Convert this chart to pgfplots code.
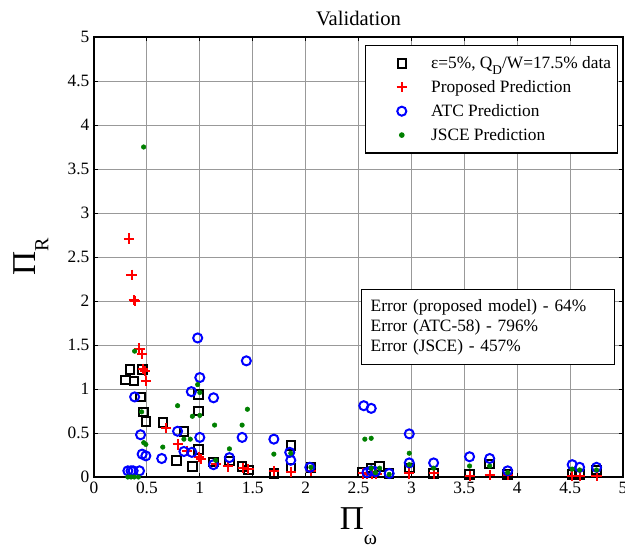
\documentclass[border=0pt]{standalone}
\usepackage{fontspec}
\setmainfont{Liberation Serif}
\usepackage{pgfplots}
\pgfplotsset{compat=1.18}
\definecolor{mgreen}{RGB}{0,128,0}
\pgfplotsset{mylegimg/.style={legend image code/.code={\path[draw=none] (0pt,0pt) -- (44pt,0pt); \draw[##1, only marks] plot coordinates {(24pt,0pt)};}}}
\begin{document}
\begin{tikzpicture}
\begin{axis}[
 name=ax, at={(0,0)}, anchor=south west,
 scale only axis, width=396.75pt, height=330pt,
 xmin=0, xmax=5, ymin=0, ymax=5,
 xtick={0,0.5,...,5}, ytick={0,0.5,...,5},
 grid=major, grid style={color=black!40, line width=0.7pt},
 tick align=inside, major tick length=3pt,
 tick style={black, line width=0.6pt},
 axis line style={black, line width=0.8pt},
 /pgf/number format/assume math mode=true,
 ticklabel style={font=\fontsize{13}{15}\selectfont},
 title={Validation},
 title style={font=\fontsize{15.5}{18}\selectfont, anchor=base, at={(0.5,1)}, yshift=3pt},
 xlabel={\fontsize{25}{28}\selectfont Π\raisebox{-0.45em}{\fontsize{15}{15}\selectfont ω}},
 xlabel style={at={(axis description cs:0.5,0)}, anchor=base, yshift=-39.75pt},
 ylabel={\fontsize{25}{28}\selectfont Π\raisebox{-0.4em}{\fontsize{15}{15}\selectfont R}},
 ylabel style={at={(axis description cs:-0.1115,0.5)}, anchor=base},
 legend style={at={(0.991,0.982)}, anchor=north east, draw=black, line width=0.8pt,
   inner xsep=3pt, inner ysep=4.5pt, font=\fontsize{13}{15}\selectfont,
   nodes={inner ysep=3.7pt}},
 legend cell align=left,
]
% experimental data
\addplot[only marks, mark=square, mark size=3.2pt, line width=1.5pt, black, mylegimg] coordinates {
(0.30,1.10) (0.34,1.22) (0.38,1.09) (0.46,1.22) (0.44,0.91) (0.47,0.74) (0.49,0.63)
(0.65,0.62) (0.85,0.52) (0.99,0.94) (0.99,0.75) (0.99,0.31) (0.78,0.19) (0.93,0.12)
(1.13,0.17) (1.28,0.18) (1.40,0.12) (1.46,0.08) (1.70,0.04) (1.86,0.36) (1.86,0.10)
(2.05,0.11) (2.54,0.05) (2.62,0.10) (2.70,0.12) (2.79,0.04) (2.98,0.10) (3.21,0.04)
(3.55,0.03) (3.74,0.15) (3.91,0.03) (4.52,0.03) (4.59,0.03) (4.75,0.08)
};
\addlegendentry{ε=5\%, Q\raisebox{-0.35em}{\fontsize{10}{10}\selectfont D}/W=17.5\% data}
% proposed
\addplot[only marks, mark=+, mark size=3.8pt, line width=1.5pt, red, mylegimg] coordinates {
(0.33,2.71) (0.355,2.30) (0.375,2.01) (0.39,2.00) (0.43,1.46) (0.45,1.40) (0.46,1.23)
(0.48,1.20) (0.49,1.09) (0.68,0.56) (0.79,0.37) (0.88,0.30) (0.99,0.23) (1.01,0.20)
(1.15,0.15) (1.27,0.12) (1.41,0.10) (1.46,0.09) (1.70,0.07) (1.86,0.06) (2.05,0.07)
(2.54,0.04) (2.58,0.03) (2.63,0.03) (2.67,0.03) (2.98,0.04) (3.21,0.04) (3.55,0.01)
(3.74,0.02) (3.91,0.02) (4.52,0.01) (4.59,0.01) (4.75,0.01)
};
\addlegendentry{Proposed Prediction}
% ATC
\addplot[only marks, mark=o, mark size=3.4pt, line width=1.5pt, blue, mylegimg] coordinates {
(0.32,0.07) (0.35,0.07) (0.37,0.07) (0.43,0.07) (0.384,0.91) (0.44,0.48) (0.455,0.26)
(0.49,0.24) (0.64,0.21) (0.79,0.52) (0.85,0.29) (0.925,0.28) (0.92,0.97) (0.98,1.58)
(1.00,1.13) (1.00,0.45) (1.13,0.90) (1.13,0.14) (1.28,0.22) (1.40,0.45) (1.44,1.32)
(1.70,0.43) (1.85,0.28) (1.86,0.19) (2.04,0.11) (2.55,0.81) (2.62,0.78) (2.58,0.05)
(2.62,0.07) (2.66,0.06) (2.79,0.04) (2.98,0.49) (2.98,0.16) (3.21,0.16) (3.55,0.23)
(3.74,0.21) (3.91,0.07) (4.52,0.14) (4.59,0.11) (4.75,0.11)
};
\addlegendentry{ATC Prediction}
% JSCE
\addplot[only marks, mark=*, mark size=1.7pt, mgreen, mylegimg] coordinates {
(0.32,0.00) (0.35,0.00) (0.38,0.00) (0.42,0.00) (0.384,1.43) (0.469,3.75) (0.45,0.74)
(0.47,0.39) (0.49,0.37) (0.65,0.34) (0.79,0.81) (0.85,0.43) (0.91,0.43) (0.93,0.69)
(0.98,1.05) (1.00,0.96) (1.00,0.70) (1.14,0.59) (1.15,0.19) (1.28,0.32) (1.40,0.59)
(1.45,0.77) (1.70,0.26) (1.86,0.27) (2.05,0.11) (2.56,0.43) (2.62,0.44) (2.62,0.10)
(2.66,0.05) (2.70,0.10) (2.79,0.03) (2.98,0.27) (2.98,0.14) (3.21,0.10) (3.55,0.125)
(3.74,0.125) (3.91,0.05) (4.52,0.09) (4.59,0.08) (4.75,0.08)
};
\addlegendentry{JSCE Prediction}
\node[draw=black, line width=0.8pt, fill=white, anchor=north west, align=left,
  text width=176pt, inner xsep=6.75pt, inner ysep=7pt, font=\fontsize{13}{15}\selectfont]
  at (rel axis cs:0.505,0.427)
  {Error (proposed model) - 64\%\\ Error (ATC-58) - 796\%\\ Error (JSCE) - 457\%};
\end{axis}
\pgfresetboundingbox
\path (-70.5pt,-56.25pt) rectangle (398.25pt,357.75pt);
\end{tikzpicture}
\end{document}
